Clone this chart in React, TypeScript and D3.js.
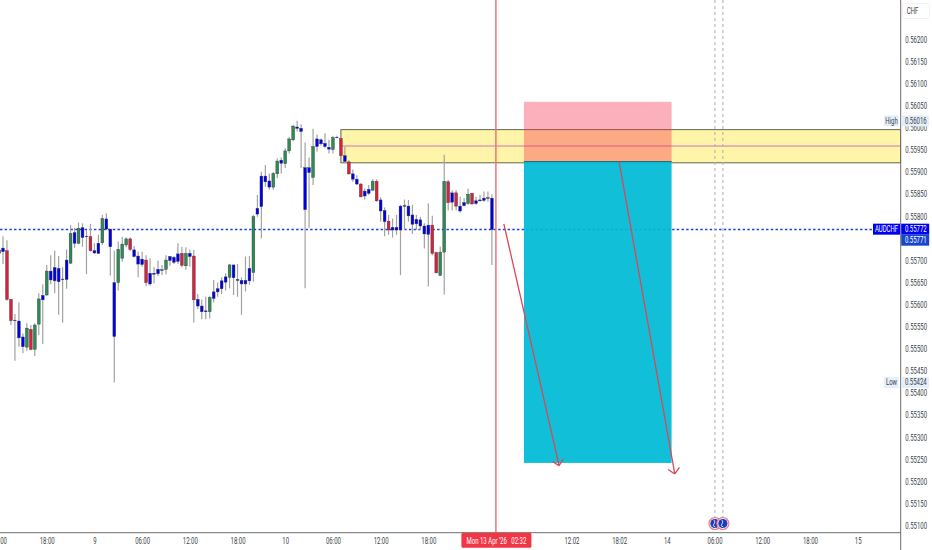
import React, { useEffect, useRef } from 'react';
import * as d3 from 'd3';

const WIDTH = 932;
const HEIGHT = 550;

// candle values in 1e-5 CHF, first bar sits just off the left edge
const highs = [
  55746, 55755, 55746, 55612, 55579, 55605, 55535, 55558, 55554, 55558, 55626, 55646, 55690, 55712, 55722, 55710, 55685, 55725, 55780, 55774, 55786, 55784, 55769, 55783, 55739,
  55758, 55803, 55807, 55771, 55722, 55743, 55754, 55752, 55752, 55733, 55720, 55720, 55712, 55705, 55685, 55700, 55690, 55712, 55710, 55710, 55739, 55731, 55730, 55725, 55724,
  55624, 55612, 55618, 55620, 55656, 55650, 55662, 55671, 55692, 55690, 55692, 55662, 55709, 55710, 55803, 55848, 55901, 55916, 55897, 55901, 55931, 55933, 55954, 55980, 56007,
  56016, 56008, 55967, 55933, 55998, 55985, 55976, 55988, 55973, 55982, 55982, 55992, 55958, 55927, 55906, 55893, 55875, 55863, 55871, 55884, 55884, 55843, 55820, 55803, 55795,
  55803, 55826, 55838, 55837, 55826, 55803, 55799, 55784, 55829, 55801, 55720, 55731, 55939, 55882, 55859, 55859, 55844, 55841, 55863, 55853, 55844, 55848, 55856, 55856, 55850,
];
const bodyTops = [
  55724, 55728, 55722, 55612, 55565, 55563, 55527, 55547, 55544, 55554, 55613, 55621, 55676, 55676, 55684, 55682, 55658, 55701, 55761, 55763, 55773, 55774, 55755, 55754, 55722,
  55739, 55795, 55794, 55771, 55650, 55725, 55737, 55749, 55749, 55724, 55710, 55703, 55701, 55671, 55671, 55680, 55679, 55701, 55709, 55707, 55715, 55716, 55716, 55716, 55710,
  55612, 55597, 55586, 55616, 55629, 55636, 55654, 55663, 55690, 55690, 55657, 55655, 55655, 55682, 55799, 55818, 55891, 55891, 55880, 55897, 55925, 55927, 55948, 55975, 56004,
  56002, 55999, 55910, 55910, 55958, 55975, 55973, 55965, 55956, 55978, 55979, 55976, 55937, 55923, 55896, 55884, 55873, 55857, 55861, 55879, 55879, 55837, 55813, 55789, 55775,
  55775, 55823, 55824, 55823, 55803, 55793, 55792, 55778, 55780, 55780, 55718, 55719, 55879, 55878, 55853, 55853, 55823, 55831, 55850, 55852, 55835, 55837, 55841, 55842, 55841,
];
const bodyBottoms = [
  55716, 55720, 55612, 55564, 55564, 55525, 55505, 55504, 55499, 55499, 55556, 55611, 55622, 55656, 55654, 55652, 55657, 55657, 55694, 55739, 55739, 55752, 55754, 55722, 55717,
  55716, 55740, 55771, 55731, 55528, 55650, 55705, 55735, 55725, 55709, 55692, 55691, 55650, 55647, 55669, 55670, 55678, 55680, 55700, 55696, 55698, 55689, 55688, 55709, 55611,
  55597, 55584, 55584, 55584, 55614, 55629, 55636, 55651, 55662, 55661, 55655, 55647, 55647, 55654, 55673, 55805, 55822, 55878, 55866, 55866, 55896, 55920, 55919, 55948, 55973,
  55999, 55992, 55815, 55899, 55888, 55958, 55964, 55958, 55952, 55951, 55978, 55937, 55924, 55896, 55884, 55873, 55844, 55846, 55852, 55859, 55835, 55812, 55788, 55769, 55769,
  55769, 55769, 55823, 55801, 55782, 55783, 55778, 55760, 55759, 55716, 55672, 55666, 55719, 55831, 55832, 55823, 55812, 55824, 55829, 55828, 55829, 55835, 55836, 55841, 55770,
];
const lows = [
  55692, 55692, 55609, 55554, 55473, 55505, 55490, 55496, 55497, 55484, 55531, 55511, 55620, 55646, 55626, 55577, 55559, 55636, 55692, 55728, 55737, 55731, 55669, 55720, 55715,
  55715, 55735, 55769, 55666, 55424, 55632, 55697, 55730, 55722, 55707, 55662, 55686, 55642, 55643, 55648, 55665, 55667, 55669, 55688, 55692, 55692, 55685, 55679, 55686, 55560,
  55590, 55567, 55567, 55569, 55605, 55618, 55624, 55632, 55637, 55622, 55618, 55577, 55630, 55645, 55652, 55799, 55750, 55867, 55860, 55860, 55886, 55897, 55909, 55942, 55970,
  55992, 55909, 55637, 55774, 55871, 55946, 55960, 55954, 55942, 55942, 55976, 55924, 55920, 55894, 55878, 55871, 55843, 55838, 55848, 55858, 55833, 55788, 55755, 55758, 55752,
  55758, 55667, 55769, 55788, 55760, 55769, 55769, 55727, 55641, 55712, 55671, 55665, 55623, 55813, 55813, 55813, 55808, 55822, 55826, 55826, 55826, 55833, 55833, 55833, 55690,
];
// b blue, r red, g green
const tones =
  'bbrrbbbgrggbgbbbbbgbgbbrbbgbbbgggrbbbrbbbbgbbbrgbrbbbgbbbbgbbbbbgbbbbggbgggbbbbgbbbbgbrbrbbrbbgrbbrbbbbbbbbbbrrggrbrbbgrbbbbb';

const priceTicks = d3.range(0, 23).map(i => (55100 + i * 50) / 1e5);
const timeTickBars = [0, 11, 23, 35, 47, 59, 71, 83, 95, 107, 143, 155, 167, 179, 191, 203, 215];
const timeTickLabels = ['00', '18:00', '9', '06:00', '12:00', '18:00', '10', '06:00', '12:00', '18:00', '12:02', '18:02', '14', '06:00', '12:00', '18:00', '15'];

const lastPrice = 0.55772;
const zonePrices = [0.55996, 0.55921];
const zoneMidPrice = 0.55959;
const zoneStartBar = 85;
const riskBars = [131.05, 168.2];
const riskPrices = [0.56059, 0.55924, 0.55242];
const cursorBar = 124;
const eventBars = [179.1, 181.1];
const arrowBars = [[126, 139.9], [155, 169]];
const arrowPrices = [[0.55783, 0.55236], [0.55923, 0.55217]];

const toneColor: Record<string, string> = { b: '#0000e8', r: '#dc1e3c', g: '#2e8b57' };

const App: React.FC = () => {
  const svgRef = useRef<SVGSVGElement>(null);

  useEffect(() => {
    if (!svgRef.current) return;
    const svg = d3.select(svgRef.current);
    svg.selectAll('*').remove();

    const axisX = 900.7;
    const axisY = 532.7;
    const x = d3.scaleLinear().domain([0, 100]).range([3.0, 400.5]);
    const y = d3.scaleLinear().domain([0.551, 0.562]).range([525.7, 39.5]);
    const bar = (i: number) => x(i - 1);

    // narrow the glyphs, the reference was squeezed horizontally
    const squeeze = (sel: any, k = 0.7) =>
      sel.each(function (this: SVGTextElement) {
        const tx = Number(this.getAttribute('x')) || 0;
        const ty = Number(this.getAttribute('y')) || 0;
        this.setAttribute('x', '0');
        this.setAttribute('y', '0');
        this.setAttribute('transform', `translate(${tx},${ty}) scale(${k},1)`);
      });

    const label = (tx: number, ty: number, text: string, fill: string, anchor = 'middle', weight = 400) =>
      squeeze(
        svg.append('text')
          .attr('x', tx)
          .attr('y', ty)
          .attr('text-anchor', anchor)
          .attr('dominant-baseline', 'central')
          .attr('font-family', 'Roboto, sans-serif')
          .attr('font-size', 8.6)
          .attr('font-weight', weight)
          .attr('fill', fill)
          .text(text)
      );

    // last price line
    svg.append('line')
      .attr('x1', 0)
      .attr('x2', 873)
      .attr('y1', y(lastPrice) + 0.8)
      .attr('y2', y(lastPrice) + 0.8)
      .attr('stroke', '#1c3fe0')
      .attr('stroke-width', 1.6)
      .attr('stroke-dasharray', '2.4 2.3');

    // supply zone
    const zoneX = x(zoneStartBar);
    svg.append('rect')
      .attr('x', zoneX)
      .attr('y', y(zonePrices[0]))
      .attr('width', axisX - zoneX)
      .attr('height', y(zonePrices[1]) - y(zonePrices[0]))
      .attr('fill', '#fff5a8')
      .attr('stroke', '#55553f')
      .attr('stroke-width', 0.9);
    svg.append('line')
      .attr('x1', zoneX)
      .attr('x2', axisX)
      .attr('y1', y(zoneMidPrice))
      .attr('y2', y(zoneMidPrice))
      .attr('stroke', '#c763bb')
      .attr('stroke-width', 0.9);

    // wicks
    svg.append('g')
      .selectAll('line')
      .data(highs)
      .enter()
      .append('line')
      .attr('x1', (d, i) => bar(i))
      .attr('x2', (d, i) => bar(i))
      .attr('y1', d => y(d / 1e5))
      .attr('y2', (d, i) => y(lows[i] / 1e5))
      .attr('stroke', '#a2a2a2')
      .attr('stroke-width', 1.2);

    // bodies
    svg.append('g')
      .selectAll('rect')
      .data(bodyTops)
      .enter()
      .append('rect')
      .attr('x', (d, i) => bar(i) - 1.4)
      .attr('y', d => y(d / 1e5))
      .attr('width', 2.8)
      .attr('height', (d, i) => Math.max(0.6, y(bodyBottoms[i] / 1e5) - y(d / 1e5)))
      .attr('fill', (d, i) => toneColor[tones[i]])
      .attr('stroke', '#33393a')
      .attr('stroke-width', 0.4);

    // risk / reward box
    const boxX = x(riskBars[0]);
    const boxW = x(riskBars[1]) - boxX;
    svg.append('rect')
      .attr('x', boxX)
      .attr('y', y(riskPrices[0]))
      .attr('width', boxW)
      .attr('height', y(riskPrices[1]) - y(riskPrices[0]))
      .attr('fill', 'rgba(247,41,71,0.37)');
    svg.append('rect')
      .attr('x', boxX)
      .attr('y', y(riskPrices[1]))
      .attr('width', boxW)
      .attr('height', y(riskPrices[2]) - y(riskPrices[1]))
      .attr('fill', 'rgba(0,186,213,0.93)');
    svg.append('line')
      .attr('x1', boxX)
      .attr('x2', boxX + boxW)
      .attr('y1', y(riskPrices[1]))
      .attr('y2', y(riskPrices[1]))
      .attr('stroke', '#20606a')
      .attr('stroke-width', 0.9);

    // cursor line
    svg.append('line')
      .attr('x1', x(cursorBar))
      .attr('x2', x(cursorBar))
      .attr('y1', 0)
      .attr('y2', axisY)
      .attr('stroke', '#f4707c')
      .attr('stroke-width', 1.5);

    // forecast arrows
    arrowBars.forEach((bars, n) => {
      const x1 = x(bars[0]);
      const x2 = x(bars[1]);
      const y1 = y(arrowPrices[n][0]);
      const y2 = y(arrowPrices[n][1]);
      const a = Math.atan2(y2 - y1, x2 - x1);
      const head = (da: number) => `M${x2 + 8 * Math.cos(a + Math.PI - da)},${y2 + 8 * Math.sin(a + Math.PI - da)}L${x2},${y2}`;
      svg.append('path')
        .attr('d', `M${x1},${y1}L${x2},${y2}${head(0.8)}${head(-0.8)}`)
        .attr('fill', 'none')
        .attr('stroke', '#dc4657')
        .attr('stroke-width', 1.3);
    });

    // session markers
    eventBars.forEach(b => {
      svg.append('line')
        .attr('x1', x(b))
        .attr('x2', x(b))
        .attr('y1', 0)
        .attr('y2', 517)
        .attr('stroke', '#b4b4b4')
        .attr('stroke-width', 1.1)
        .attr('stroke-dasharray', '3 3');
    });
    eventBars.forEach(b => {
      const g = svg.append('g').attr('transform', `translate(${x(b)},523.5)`);
      g.append('circle').attr('r', 6).attr('fill', '#eef0ff').attr('stroke', '#f2737f').attr('stroke-width', 1.1);
      g.append('circle').attr('r', 4.6).attr('fill', '#1c3cb8');
      g.append('path').attr('d', 'M-1,-3.6Q1,-1.5-1,0.5T0.5,3.5').attr('fill', 'none').attr('stroke', '#dfe6ff').attr('stroke-width', 0.9);
    });

    // axes frame
    svg.append('rect').attr('x', axisX + 0.5).attr('y', 0).attr('width', WIDTH - axisX).attr('height', HEIGHT).attr('fill', '#fff');
    svg.append('rect').attr('x', 0).attr('y', axisY).attr('width', axisX).attr('height', HEIGHT - axisY).attr('fill', '#fff');
    svg.append('line').attr('x1', axisX).attr('x2', axisX).attr('y1', 0).attr('y2', HEIGHT).attr('stroke', '#6d6d6d').attr('stroke-width', 1);
    svg.append('line').attr('x1', 0).attr('x2', axisX).attr('y1', axisY).attr('y2', axisY).attr('stroke', '#6d6d6d').attr('stroke-width', 1);

    const yAxis = d3.axisRight(y)
      .tickValues(priceTicks)
      .tickFormat(d => (d as number).toFixed(5))
      .tickSize(0)
      .tickPadding(4.5);
    const yG = svg.append('g').attr('transform', `translate(${axisX},0)`).call(yAxis as any);
    yG.select('.domain').remove();
    const yLabels = yG.selectAll('text')
      .attr('font-family', 'Roboto, sans-serif')
      .attr('font-size', 8.6)
      .attr('fill', '#3c3f48');
    squeeze(yLabels);

    const xAxis = d3.axisBottom(x)
      .tickValues(timeTickBars)
      .tickFormat((d, i) => timeTickLabels[i])
      .tickSize(0)
      .tickPadding(5);
    const xG = svg.append('g').attr('transform', `translate(0,${axisY})`).call(xAxis as any);
    xG.select('.domain').remove();
    const xLabels = xG.selectAll('text')
      .attr('font-family', 'Roboto, sans-serif')
      .attr('font-size', 8.6)
      .attr('fill', '#3c3f48');
    squeeze(xLabels);

    // high / low tags
    const tag = (name: string, price: number) => {
      const py = y(price);
      svg.append('rect').attr('x', 884).attr('y', py - 5.5).attr('width', 14.5).attr('height', 11).attr('fill', '#e5eefb');
      svg.append('rect').attr('x', 901.5).attr('y', py - 5.5).attr('width', 27.5).attr('height', 11).attr('fill', '#e5eefb');
      label(891.5, py, name, '#3c3f48');
      label(915.8, py, price.toFixed(5), '#3c3f48');
    };
    tag('High', 0.56016);
    tag('Low', 0.55424);

    // price tags
    const lastY = y(lastPrice);
    svg.append('rect').attr('x', 873).attr('y', lastY - 5).attr('width', 27).attr('height', 11).attr('fill', '#0000f0');
    svg.append('rect').attr('x', 901.2).attr('y', lastY - 5).attr('width', 28).attr('height', 11).attr('fill', '#0000f0');
    svg.append('rect').attr('x', 901.2).attr('y', lastY + 6).attr('width', 28).attr('height', 11).attr('fill', '#1746c8');
    label(886.5, lastY + 0.5, 'AUDCHF', '#fff');
    label(915.8, lastY + 0.5, '0.55772', '#fff');
    label(915.8, lastY + 11.5, '0.55771', '#fff');

    // currency box
    svg.append('rect')
      .attr('x', 902.5)
      .attr('y', 3.5)
      .attr('width', 27)
      .attr('height', 15)
      .attr('rx', 2)
      .attr('fill', '#fff')
      .attr('stroke', '#eeeeee')
      .attr('stroke-width', 0.8);
    label(912.5, 11, 'CHF', '#3c3f48');

    // crosshair time label
    svg.append('rect')
      .attr('x', x(cursorBar) - 34.5)
      .attr('y', axisY)
      .attr('width', 70)
      .attr('height', 15)
      .attr('rx', 1.5)
      .attr('fill', '#f23645');
    label(x(cursorBar) + 0.5, 541, "Mon 13 Apr '26 \u00a0 02:32", '#fff');
  }, []);

  return (
    <svg
      ref={svgRef}
      width={WIDTH}
      height={HEIGHT}
      style={{ position: 'absolute', left: 0, top: 0, display: 'block', background: '#fff' }}
    />
  );
};

export default App;
